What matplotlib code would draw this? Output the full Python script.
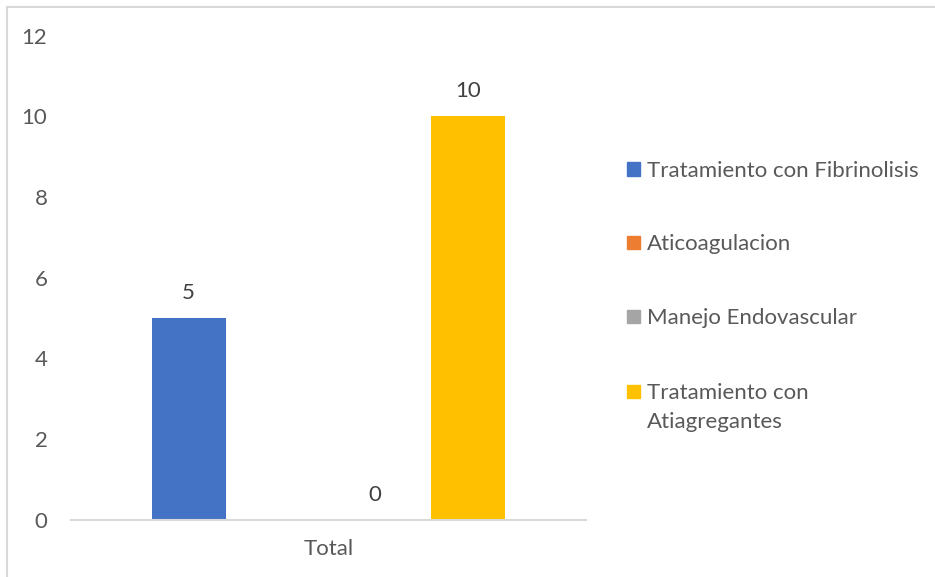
import numpy as np
import matplotlib
matplotlib.use("Agg")
import matplotlib.pyplot as plt
from matplotlib.patches import Rectangle
from matplotlib.lines import Line2D

plt.rcParams['font.family'] = ['Lato', 'DejaVu Sans']

categories = ["Total"]
series_names = ["Tratamiento con Fibrinolisis", "Aticoagulacion",
                "Manejo Endovascular", "Tratamiento con\nAtiagregantes"]
series_values = [5, np.nan, 0, 10]   # Aticoagulacion has no value
series_colors = ["#4472C4", "#ED7D31", "#A5A5A5", "#FFC000"]
y_ticks = [0, 2, 4, 6, 8, 10, 12]

W, H = 935, 577
fig = plt.figure(figsize=(W / 100, H / 100), dpi=100)
fig.patch.set_facecolor("white")

ax = fig.add_axes([71 / W, 1 - 520 / H, (586 - 71) / W, (520 - 35.5) / H])

slot = 93.3 / 515
width = 74 / 515
x0 = np.arange(len(categories))
text_col = "#595959"
label_col = "#404040"
fs = 16

for i, (name, val, col) in enumerate(zip(series_names, series_values, series_colors)):
    xpos = x0 + (i - 1.5) * slot
    if np.isnan(val):
        continue
    ax.bar(xpos, [val], width=width, color=col, zorder=2)
    ax.annotate(f"{val:g}", (xpos[0], val), xytext=(0, 18), textcoords="offset points",
                ha="center", va="center", fontsize=fs, color=label_col)

ax.set_xlim(-0.5, 0.5)
ax.set_ylim(0, 12)
ax.set_yticks(y_ticks)
ax.set_xticks(x0)
ax.set_xticklabels(categories)
for s in ["top", "right", "left"]:
    ax.spines[s].set_visible(False)
ax.spines["bottom"].set_color("#D9D9D9")
ax.spines["bottom"].set_linewidth(1.5)
ax.tick_params(axis="y", length=0, pad=17, labelsize=fs, labelcolor=text_col)
ax.tick_params(axis="x", length=0, pad=14, labelsize=fs, labelcolor=text_col)

# legend drawn as colored squares with labels; wrapped labels continue below
leg_y = [169, 242.5, 316.5, 391]
line_step = 29
for name, col, yc in zip(series_names, series_colors, leg_y):
    fig.patches.append(Rectangle((627 / W, 1 - (yc + 6.5) / H), 13 / W, 13 / H,
                                 transform=fig.transFigure, color=col))
    for k, line in enumerate(name.split("\n")):
        fig.text(647 / W, 1 - (yc + k * line_step) / H, line, ha="left",
                 va="center_baseline", fontsize=fs, color=text_col)

# chart frame (left and top edges)
fig.lines.append(Line2D([6.5 / W, 6.5 / W], [0, 1 - 6.5 / H], transform=fig.transFigure,
                        color="#D9D9D9", lw=1.5))
fig.lines.append(Line2D([6.5 / W, 1], [1 - 6.5 / H, 1 - 6.5 / H], transform=fig.transFigure,
                        color="#D9D9D9", lw=1.5))

fig.savefig("out.png", dpi=100, facecolor="white")
